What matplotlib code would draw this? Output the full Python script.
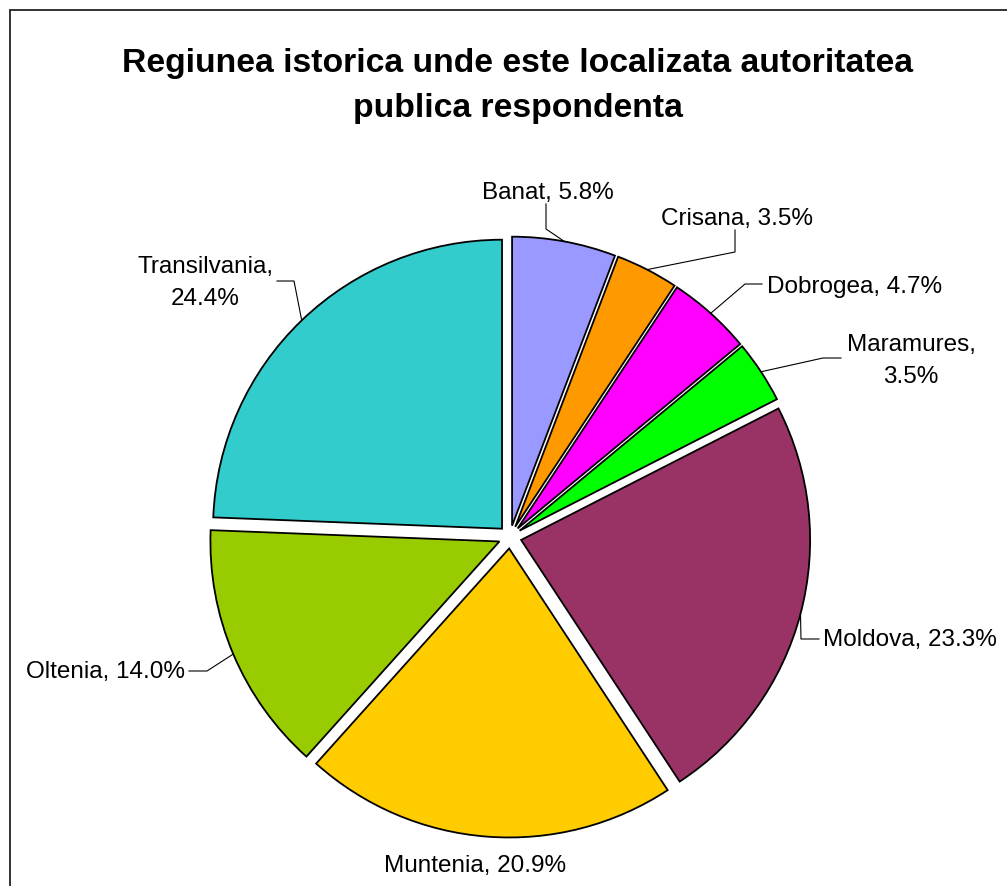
import numpy as np
import matplotlib
matplotlib.use("Agg")
import matplotlib.pyplot as plt
from matplotlib.patches import Rectangle

plt.rcParams['font.family'] = ['Liberation Sans', 'DejaVu Sans']

# data
regions = ['Banat', 'Crisana', 'Dobrogea', 'Maramures', 'Moldova',
           'Muntenia', 'Oltenia', 'Transilvania']
shares = [5.8, 3.5, 4.7, 3.5, 23.3, 20.9, 14.0, 24.4]
colors = ['#9999FF', '#FF9900', '#FF00FF', '#00FF00', '#993366',
          '#FFCC00', '#99CC00', '#33CCCC']
title = 'Regiunea istorica unde este localizata autoritatea\npublica respondenta'

W, H = 1007, 887


def px(x, y):
    # pixel coords (origin top-left) -> data coords
    return x, H - y


fig = plt.figure(figsize=(W / 100, H / 100), dpi=100)
ax = fig.add_axes([0, 0, 1, 1])

# outer frame of the chart area
fig.patches.append(Rectangle((10 / W, 0 - 0.01), 1.1, (H - 11) / H + 0.01,
                             transform=fig.transFigure, fill=False,
                             edgecolor='#222222', lw=1.3))

# explode is in data units (= pixels here)
wedges, _ = ax.pie(shares, colors=colors, startangle=90, counterclock=False,
                   center=px(510, 538), radius=289, explode=[11.5] * 8,
                   wedgeprops=dict(edgecolor='black', linewidth=1.3),
                   frame=True)
ax.set_xlim(0, W)
ax.set_ylim(0, H)
ax.set_aspect('equal')
ax.axis('off')

fig.text(0.514, 1 - 86 / H, title, ha='center', va='center', fontsize=24.3,
         fontweight='bold', linespacing=1.55)

# label layout: text position (pixels), alignment, leader elbow, leader end
layout = {
    'Banat': ((548, 193), 'center', [(546, 230), (546, 205)]),
    'Crisana': ((737, 219), 'center', [(735, 253), (735, 231)]),
    'Dobrogea': ((767, 287), 'left', [(745, 285), (762, 285)]),
    'Maramures': ((911, 361), 'center', [(823, 359), (841, 359)]),
    'Moldova': ((823, 640), 'left', [(801, 640), (819, 640)]),
    'Muntenia': ((475, 866), 'center', []),
    'Oltenia': ((185, 672), 'right', [(207, 672), (189, 672)]),
    'Transilvania': ((205, 283), 'center', [(294, 282), (277, 282)]),
}
two_line = {'Maramures', 'Transilvania'}

for w, name, val in zip(wedges, regions, shares):
    (tx, ty), ha, leader = layout[name]
    sep = '\n' if name in two_line else ' '
    ax.text(*px(tx, ty), f'{name},{sep}{val:.1f}%', ha=ha, va='center',
            fontsize=17.5, multialignment='center', linespacing=1.6)
    if leader:
        ang = np.deg2rad((w.theta1 + w.theta2) / 2)
        cx, cy = w.center
        pts = [(cx + w.r * np.cos(ang), cy + w.r * np.sin(ang))]
        pts += [px(x, y) for x, y in leader]
        xs, ys = zip(*pts)
        ax.plot(xs, ys, color='black', lw=0.8)

fig.savefig('out.png', dpi=100)
